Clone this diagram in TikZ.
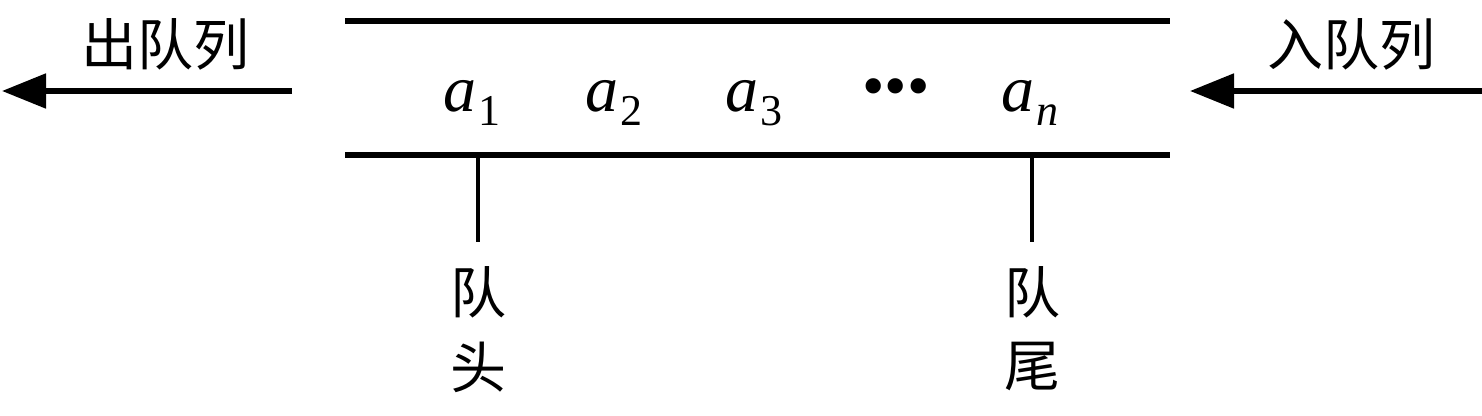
\documentclass[tikz,border=0pt]{standalone}
\usepackage{fontspec}
\setmainfont{Liberation Serif}
\newfontfamily\cjk{Noto Sans CJK SC}
\usetikzlibrary{arrows.meta}
\tikzset{
  rail/.style={line width=2.6pt},
  flow/.style={line width=2.6pt,-{Triangle[length=22pt,width=17pt]}},
  tick/.style={line width=2pt},
  cjklbl/.style={font=\cjk\fontsize{28}{28}\selectfont,inner sep=0pt},
  elem/.style={font=\fontsize{33}{33}\selectfont\itshape,inner sep=0pt,anchor=base},
}
\newcommand{\subidx}[1]{\kern1pt\raisebox{-7pt}{\fontsize{22}{22}\selectfont #1}}
\begin{document}
\begin{tikzpicture}[x=0.5pt,y=-0.5pt]
\useasboundingbox (0,0) rectangle (1482,416);
% rails
\coordinate (tl) at (345,21);
\coordinate (tr) at (1170,21);
\coordinate (bl) at (345,155);
\coordinate (br) at (1170,155);
\draw[rail] (tl) -- (tr);
\draw[rail] (bl) -- (br);
% arrows
\coordinate (outS) at (292,91);
\coordinate (outE) at (2,91);
\coordinate (inS) at (1482,91);
\coordinate (inE) at (1190,91);
\draw[flow] (outS) -- (outE);
\draw[flow] (inS) -- (inE);
% labels
\node[cjklbl] (out) at (165,44) {出队列};
\node[cjklbl] (in) at (1351,44) {入队列};
% elements
\node[elem] (a1) at (472,112) {a\subidx{\upshape 1}};
\node[elem] (a2) at (614,112) {a\subidx{\upshape 2}};
\node[elem] (a3) at (754,112) {a\subidx{\upshape 3}};
\node[font=\fontsize{32}{32}\selectfont,inner sep=0pt] (dots) at (896,93) {•••};
\node[elem] (an) at (1030,112) {a\subidx{n}};
% head/tail
\coordinate (h0) at (478,155);
\coordinate (h1) at (478,242);
\coordinate (t0) at (1032,155);
\coordinate (t1) at (1032,242);
\draw[tick] (h0) -- (h1);
\draw[tick] (t0) -- (t1);
\node[cjklbl] (hq) at (478,292) {队};
\node[cjklbl] (hh) at (478,367) {头};
\node[cjklbl] (tq) at (1032,292) {队};
\node[cjklbl] (tt) at (1032,367) {尾};
\end{tikzpicture}
\end{document}
